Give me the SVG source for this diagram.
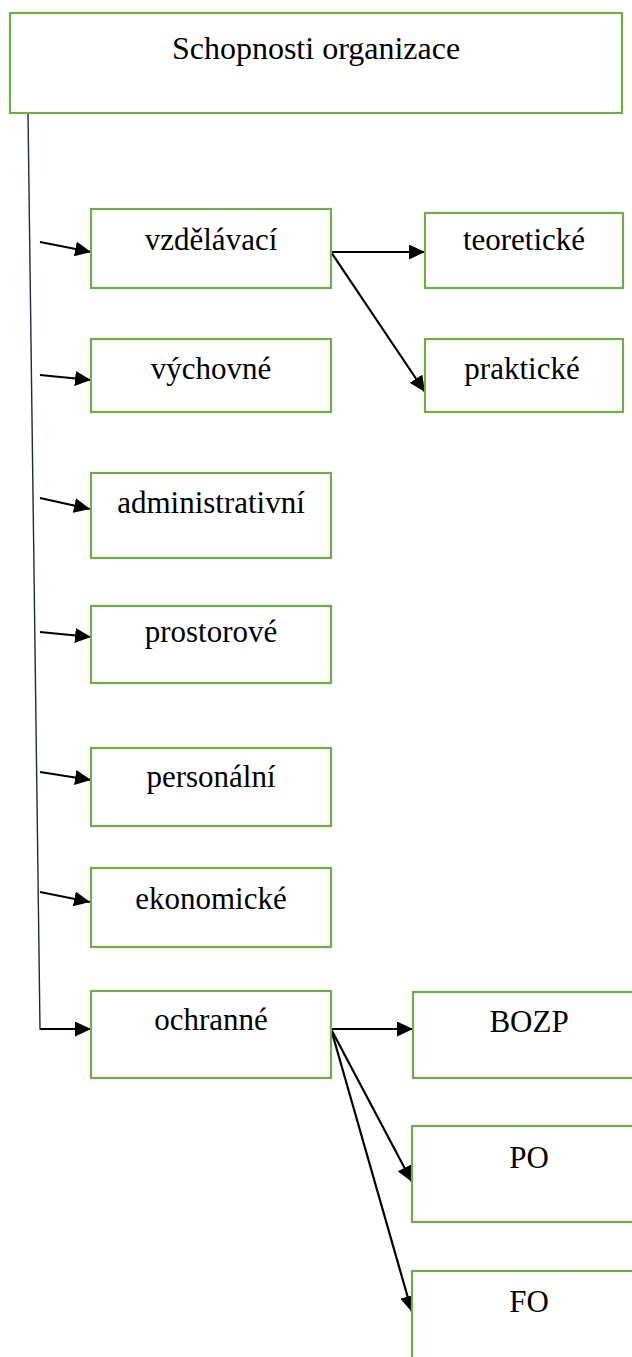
<svg xmlns="http://www.w3.org/2000/svg" width="632" height="1357" viewBox="0 0 632 1357">
<style>
.box{fill:#fff;stroke:#70AD47;stroke-width:2.2}
.lbl{font-family:"Liberation Serif","Times New Roman",serif;font-size:31px;fill:#000;text-anchor:middle}
.arr{stroke:#000;stroke-width:2.2;fill:none;marker-end:url(#ah)}
.trunk{stroke:#1c2a3a;stroke-width:1.4;fill:none}
</style>
<defs>
<marker id="ah" markerUnits="userSpaceOnUse" markerWidth="16" markerHeight="15" refX="16" refY="7.5" orient="auto">
<path d="M0,0 L16,7.5 L0,15 z" fill="#000"/>
</marker>
</defs>
<rect width="632" height="1357" fill="#fff"/>
<g id="connectors">
<polyline class="trunk" points="28,113 40,1029 75,1029"/>
<line class="arr" x1="40" y1="1029" x2="91" y2="1029"/>
<line class="arr" x1="40" y1="242" x2="91" y2="252"/>
<line class="arr" x1="40" y1="375" x2="91" y2="380"/>
<line class="arr" x1="40" y1="498" x2="90" y2="509"/>
<line class="arr" x1="40" y1="632" x2="91" y2="637"/>
<line class="arr" x1="40" y1="772" x2="91" y2="780"/>
<line class="arr" x1="40" y1="892" x2="90" y2="902"/>
<line class="arr" x1="331" y1="252" x2="425" y2="252"/>
<line class="arr" x1="331" y1="252" x2="425" y2="392"/>
<line class="arr" x1="331" y1="1029" x2="413" y2="1029"/>
<line class="arr" x1="331" y1="1029" x2="412" y2="1182"/>
<line class="arr" x1="331" y1="1029" x2="412" y2="1312"/>
</g>
<g id="n-root"><rect class="box" x="10" y="13" width="612" height="100"/><text class="lbl" x="316" y="59" style="font-size:32px">Schopnosti organizace</text></g>
<g id="n-vzdelavaci"><rect class="box" x="91" y="209" width="240" height="79"/><text class="lbl" x="211" y="250">vzdělávací</text></g>
<g id="n-teoreticke"><rect class="box" x="425" y="213" width="198" height="75"/><text class="lbl" x="524" y="250">teoretické</text></g>
<g id="n-vychovne"><rect class="box" x="91" y="339" width="240" height="73"/><text class="lbl" x="211" y="379">výchovné</text></g>
<g id="n-prakticke"><rect class="box" x="425" y="339" width="198" height="73"/><text class="lbl" x="522" y="379">praktické</text></g>
<g id="n-administrativni"><rect class="box" x="91" y="473" width="240" height="85"/><text class="lbl" x="211" y="513">administrativní</text></g>
<g id="n-prostorove"><rect class="box" x="91" y="606" width="240" height="77"/><text class="lbl" x="211" y="642">prostorové</text></g>
<g id="n-personalni"><rect class="box" x="91" y="748" width="240" height="78"/><text class="lbl" x="211" y="787">personální</text></g>
<g id="n-ekonomicke"><rect class="box" x="91" y="868" width="240" height="79"/><text class="lbl" x="211" y="909">ekonomické</text></g>
<g id="n-ochranne"><rect class="box" x="91" y="991" width="240" height="87"/><text class="lbl" x="211" y="1030">ochranné</text></g>
<g id="n-bozp"><rect class="box" x="413" y="992" width="230" height="86"/><text class="lbl" x="529" y="1032">BOZP</text></g>
<g id="n-po"><rect class="box" x="412" y="1126" width="230" height="96"/><text class="lbl" x="529" y="1168">PO</text></g>
<g id="n-fo"><rect class="box" x="412" y="1271" width="230" height="100"/><text class="lbl" x="529" y="1312">FO</text></g>
</svg>
